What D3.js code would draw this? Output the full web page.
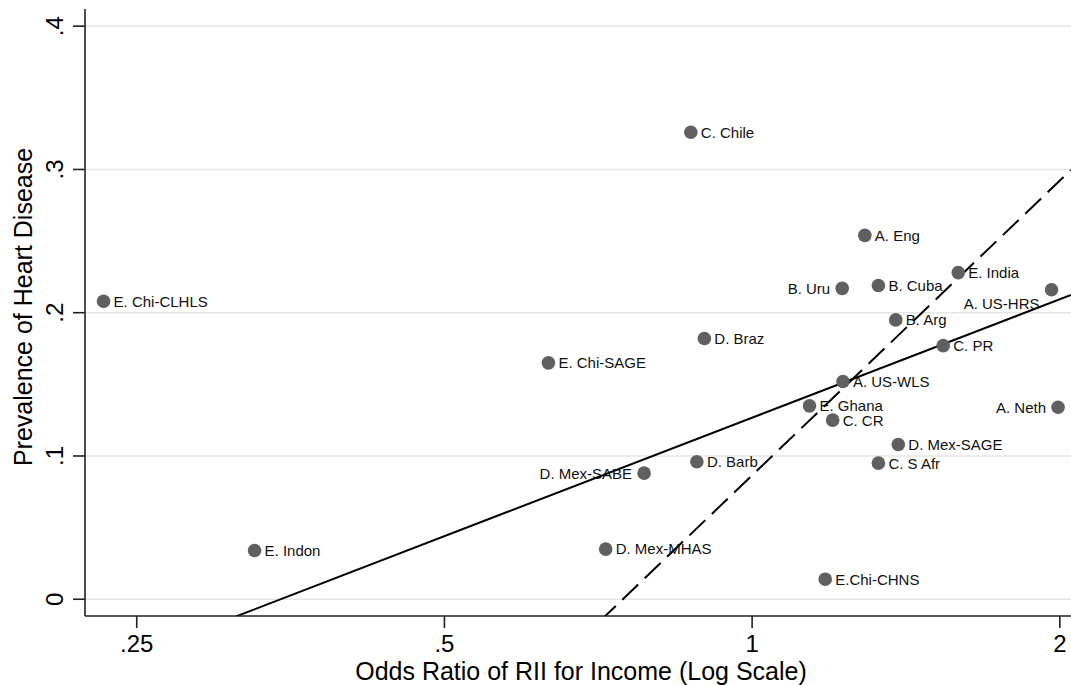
<!DOCTYPE html>
<html>
<head>
<meta charset="utf-8">
<script src="https://cdn.jsdelivr.net/npm/d3@7"></script>
<style>
  html, body { margin: 0; padding: 0; background: #fff; }
  svg { display: block; font-family: "Liberation Sans", Arial, sans-serif; }
</style>
</head>
<body>
<svg id="chart" width="1071" height="685"></svg>
<script>
// Study cohorts: odds ratio of RII for income vs. prevalence of heart disease
const studies = [
  "E. Chi-CLHLS", "E. Indon", "E. Chi-SAGE", "D. Mex-MHAS", "D. Mex-SABE",
  "C. Chile", "D. Barb", "D. Braz", "E. Ghana", "E.Chi-CHNS", "C. CR",
  "B. Uru", "A. US-WLS", "A. Eng", "B. Cuba", "C. S Afr", "B. Arg",
  "D. Mex-SAGE", "C. PR", "E. India", "A. US-HRS", "A. Neth"
];
const oddsRatio = [
  0.232, 0.326, 0.632, 0.719, 0.784,
  0.871, 0.883, 0.898, 1.138, 1.179, 1.199,
  1.225, 1.227, 1.289, 1.329, 1.329, 1.382,
  1.390, 1.538, 1.591, 1.963, 1.992
];
const prevalence = [
  0.208, 0.034, 0.165, 0.035, 0.088,
  0.326, 0.096, 0.182, 0.135, 0.014, 0.125,
  0.217, 0.152, 0.254, 0.219, 0.095, 0.195,
  0.108, 0.177, 0.228, 0.216, 0.134
];
// Marker label position, as clock positions (3 = right, 9 = left, 8 = lower left)
const labelClock = [
  3, 3, 3, 3, 9,
  3, 3, 3, 3, 3, 3,
  9, 3, 3, 3, 3, 3,
  3, 3, 3, 8, 9
];

// Fitted lines: prevalence = intercept + slope * ln(odds ratio)
const fitIntercepts = [0.1267, 0.0865];
const fitSlopes     = [0.1193, 0.2968];
const fitDashes     = [null, "22,9"];

const xTickValues = [0.25, 0.5, 1, 2];
const xTickLabels = [".25", ".5", "1", "2"];
const yTickValues = [0, 0.1, 0.2, 0.3, 0.4];
const yTickLabels = ["0", ".1", ".2", ".3", ".4"];

const xTitle = "Odds Ratio of RII for Income (Log Scale)";
const yTitle = "Prevalence of Heart Disease";

const svg = d3.select("#chart");
const plot = { left: 85, right: 1071, top: 9, bottom: 616 };

const x = d3.scaleLog().domain([0.2225, 2.051]).range([plot.left, plot.right]);
const y = d3.scaleLinear().domain([-0.0117, 0.412]).range([plot.bottom, plot.top]);

// horizontal grid
svg.append("g").selectAll("line").data(yTickValues).join("line")
  .attr("x1", plot.left).attr("x2", plot.right)
  .attr("y1", d => y(d)).attr("y2", d => y(d))
  .attr("stroke", "#e6e6e6").attr("stroke-width", 1.6);

// clip for fitted lines
svg.append("clipPath").attr("id", "plotclip").append("rect")
  .attr("x", plot.left).attr("y", plot.top)
  .attr("width", plot.right - plot.left).attr("height", plot.bottom - plot.top);

// fitted lines
const [d0, d1] = x.domain();
const lineGen = d3.line().x(d => x(d[0])).y(d => y(d[1]));
const fitG = svg.append("g").attr("clip-path", "url(#plotclip)");
fitIntercepts.forEach((a, i) => {
  const b = fitSlopes[i];
  const pts = [d0, d1].map(v => [v, a + b * Math.log(v)]);
  fitG.append("path").attr("d", lineGen(pts))
    .attr("fill", "none").attr("stroke", "#000").attr("stroke-width", 2)
    .attr("stroke-dasharray", fitDashes[i]);
});

// markers
const pts = studies.map((s, i) => ({ name: s, or: oddsRatio[i], p: prevalence[i], pos: labelClock[i] }));
svg.append("g").selectAll("circle").data(pts).join("circle")
  .attr("cx", d => x(d.or)).attr("cy", d => y(d.p)).attr("r", 6.8)
  .attr("fill", "#606060");

// marker labels
svg.append("g").selectAll("text").data(pts).join("text")
  .attr("x", d => x(d.or) + (d.pos === 3 ? 10 : -12))
  .attr("y", d => y(d.p) + (d.pos === 8 ? 14 : 0))
  .attr("dy", "0.36em")
  .attr("text-anchor", d => d.pos === 3 ? "start" : "end")
  .attr("font-size", 15).attr("fill", "#111")
  .text(d => d.name);

// axes
const axisColor = "#222";
svg.append("line").attr("x1", plot.left).attr("x2", plot.left)
  .attr("y1", plot.top).attr("y2", plot.bottom)
  .attr("stroke", axisColor).attr("stroke-width", 1.6);
svg.append("line").attr("x1", plot.left).attr("x2", plot.right)
  .attr("y1", plot.bottom).attr("y2", plot.bottom)
  .attr("stroke", axisColor).attr("stroke-width", 1.6);

// y ticks
const yt = svg.append("g");
yt.selectAll("line").data(yTickValues).join("line")
  .attr("x1", plot.left - 12).attr("x2", plot.left)
  .attr("y1", d => y(d)).attr("y2", d => y(d))
  .attr("stroke", axisColor).attr("stroke-width", 1.6);
yt.selectAll("text").data(yTickValues).join("text")
  .attr("transform", d => `translate(63,${y(d)}) rotate(-90)`)
  .attr("text-anchor", "middle").attr("font-size", 24).attr("fill", "#000")
  .text((d, i) => yTickLabels[i]);

// x ticks
const xt = svg.append("g");
xt.selectAll("line").data(xTickValues).join("line")
  .attr("x1", d => x(d)).attr("x2", d => x(d))
  .attr("y1", plot.bottom).attr("y2", plot.bottom + 12)
  .attr("stroke", axisColor).attr("stroke-width", 1.6);
xt.selectAll("text").data(xTickValues).join("text")
  .attr("x", d => x(d)).attr("y", 652)
  .attr("text-anchor", "middle").attr("font-size", 24).attr("fill", "#000")
  .text((d, i) => xTickLabels[i]);

// axis titles
svg.append("text").attr("x", 581).attr("y", 680)
  .attr("text-anchor", "middle").attr("font-size", 25).attr("fill", "#000")
  .text(xTitle);
svg.append("text").attr("transform", "translate(32,307) rotate(-90)")
  .attr("text-anchor", "middle").attr("font-size", 25).attr("fill", "#000")
  .text(yTitle);
</script>
</body>
</html>
